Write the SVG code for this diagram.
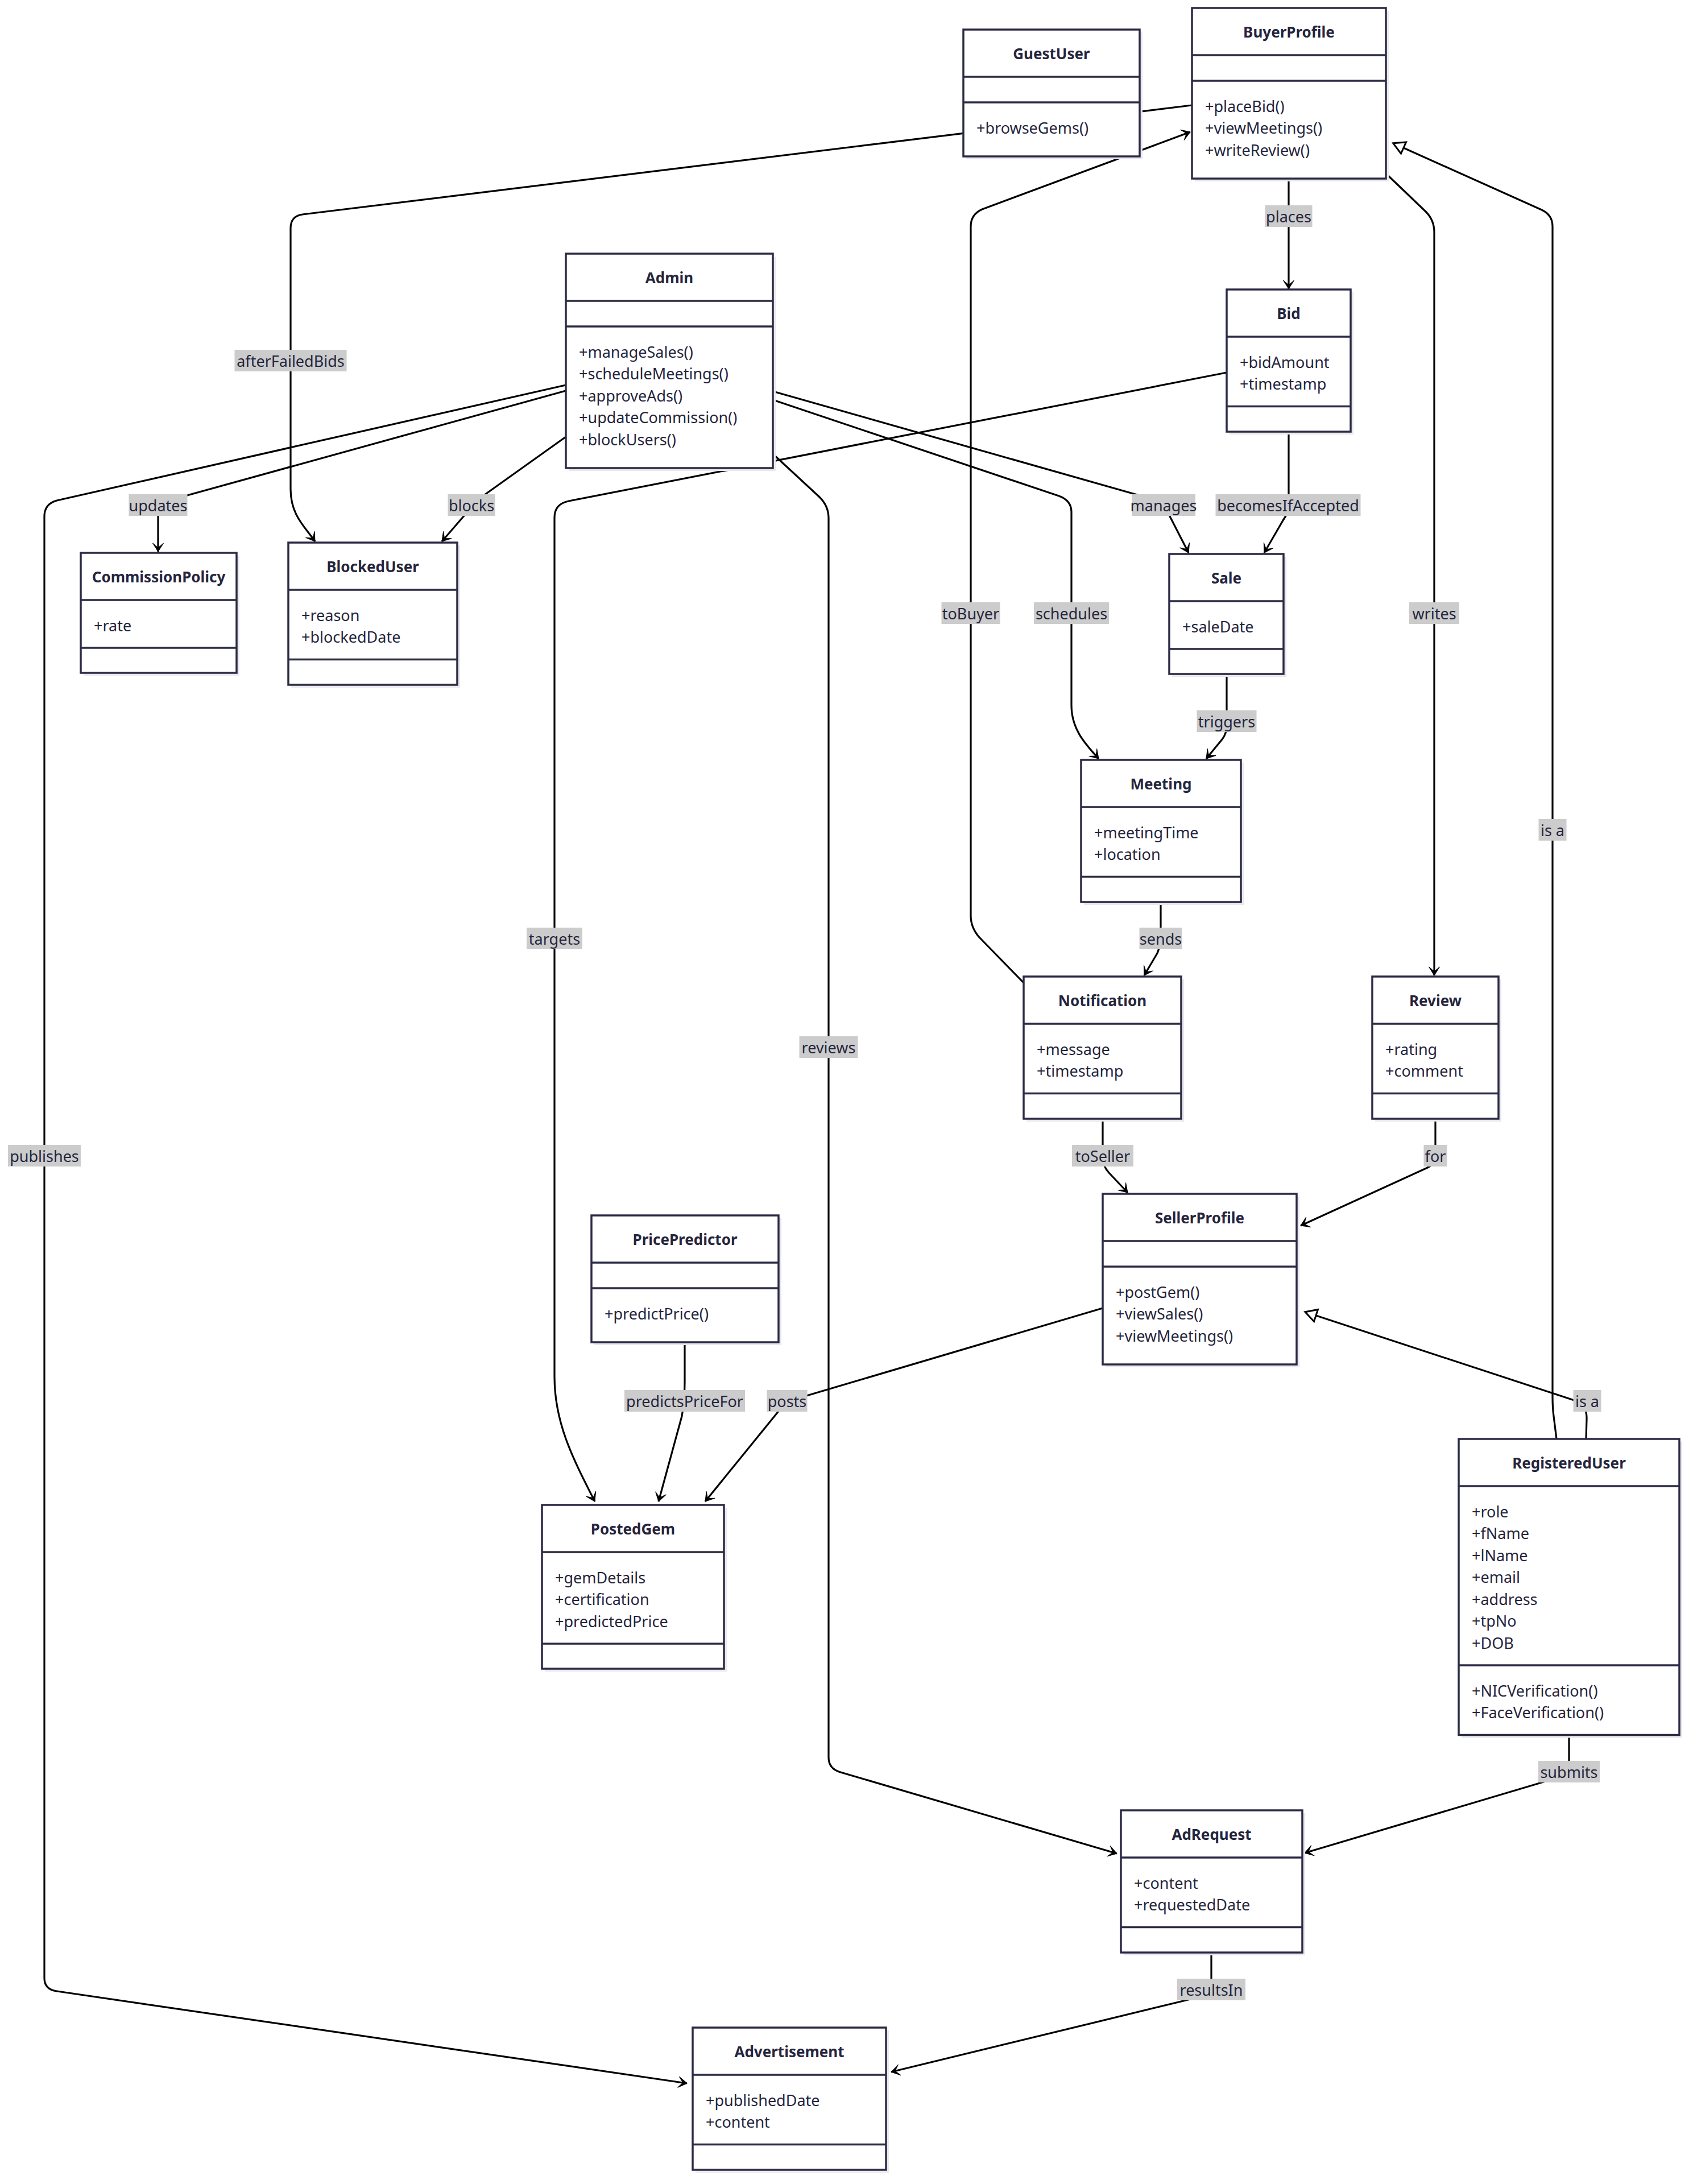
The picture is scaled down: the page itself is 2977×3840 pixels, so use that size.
<svg xmlns="http://www.w3.org/2000/svg" width="2977" height="3840" viewBox="0 0 2977 3840">
  <defs>
    <style>
      .sh { fill: #e8e8ed; }
      .box { fill: #ffffff; stroke: #2b2b45; stroke-width: 3.5; }
      .div { stroke: #2b2b45; stroke-width: 3.5; }
      .title { font-family: "Noto Sans", "Liberation Sans", sans-serif; font-size: 26px; font-weight: bold; fill: #25253d; text-anchor: middle; dominant-baseline: central; }
      .mem { font-family: "Noto Sans", "Liberation Sans", sans-serif; font-size: 27px; fill: #25253d; dominant-baseline: central; }
      .edge { fill: none; stroke: #000000; stroke-width: 3.2; stroke-linejoin: round; }
      .assoc { marker-end: url(#arr); }
      .ext { marker-end: url(#inh); }
      .lbl rect { fill: #cccccc; }
      .lbl text { font-family: "Noto Sans", "Liberation Sans", sans-serif; font-size: 27px; fill: #25253d; text-anchor: middle; dominant-baseline: central; }
    </style>
    <marker id="arr" markerUnits="userSpaceOnUse" viewBox="-20 -12 24 24" refX="0" refY="0" markerWidth="24" markerHeight="24" orient="auto">
      <path d="M0,0 L-15,-9.5 L-7,0 L-15,9.5 Z" fill="#000" stroke="#000" stroke-width="1" stroke-linejoin="round"/>
    </marker>
    <marker id="inh" markerUnits="userSpaceOnUse" viewBox="-4 -15 30 30" refX="0" refY="0" markerWidth="30" markerHeight="30" orient="auto">
      <path d="M0,-11 L20,0 L0,11 Z" fill="#fff" stroke="#000" stroke-width="3"/>
    </marker>
  </defs>

  <rect x="0" y="0" width="2977" height="3840" fill="#ffffff"/>

  <!-- relationships -->
  <g id="connectors">
    <path id="e-afterFailedBids" class="edge assoc" d="M2096,185 L532,377 Q511,380 511,401 L511,860 C511,905 535,925 554,952"/>
    <path id="e-places" class="edge assoc" d="M2266,314 L2266,508"/>
    <path id="e-becomesIfAccepted" class="edge assoc" d="M2266,759 L2266,885 Q2266,902 2256,915 L2223,972"/>
    <path id="e-manages" class="edge assoc" d="M1359,688 L2028,878 Q2044,884 2052,898 L2090,972"/>
    <path id="e-schedules" class="edge assoc" d="M1359,703 L1862,872 Q1884,880 1884,900 L1884,1240 C1884,1280 1905,1305 1932,1334"/>
    <path id="e-triggers" class="edge assoc" d="M2157,1185 L2157,1275 Q2157,1290 2149,1300 L2121,1334"/>
    <path id="e-sends" class="edge assoc" d="M2041,1586 L2041,1645 Q2041,1662 2035,1676 L2012,1715"/>
    <path id="e-toBuyer" class="edge assoc" d="M1801,1729 L1722,1648 Q1707,1631 1707,1610 L1707,398 Q1707,377 1727,368 L2093,232"/>
    <path id="e-toSeller" class="edge assoc" d="M1939,1967 L1939,2035 Q1939,2050 1950,2062 L1983,2097"/>
    <path id="e-writes" class="edge assoc" d="M2437,305 L2507,372 Q2522,387 2522,408 L2522,1715"/>
    <path id="e-for" class="edge assoc" d="M2524,1967 L2524,2035 Q2524,2047 2508,2054 L2287,2155"/>
    <path id="e-isa-buyer" class="edge ext" d="M2737,2530 L2732,2490 Q2730,2475 2730,2455 L2730,398 Q2730,378 2711,369 L2468,260"/>
    <path id="e-isa-seller" class="edge ext" d="M2789,2530 L2790,2495 Q2791,2470 2768,2462 L2314,2313"/>
    <path id="e-submits" class="edge assoc" d="M2759,3051 L2759,3105 Q2759,3120 2738,3126 L2294,3258"/>
    <path id="e-resultsIn" class="edge assoc" d="M2130,3433 L2130,3495 Q2130,3506 2110,3511 L1567,3643"/>
    <path id="e-publishes" class="edge assoc" d="M995,677 L100,880 Q78,886 78,908 L78,3478 Q78,3498 100,3501 L1208,3663"/>
    <path id="e-updates" class="edge assoc" d="M995,687 L300,879 Q278,886 278,905 L278,970"/>
    <path id="e-blocks" class="edge assoc" d="M995,768 L852,870 Q838,880 828,893 L777,952"/>
    <path id="e-targets" class="edge assoc" d="M2157,655 L1000,881 Q975,886 975,910 L975,2420 C975,2500 1005,2560 1046,2640"/>
    <path id="e-predictsPriceFor" class="edge assoc" d="M1204,2360 L1204,2430 Q1204,2462 1199,2490 L1158,2640"/>
    <path id="e-posts" class="edge assoc" d="M1939,2300 L1398,2460 Q1380,2467 1370,2480 L1240,2640"/>
    <path id="e-reviews" class="edge assoc" d="M1359,798 L1440,873 Q1457,889 1457,911 L1457,3090 Q1457,3110 1478,3116 L1964,3259"/>
  </g>

  <!-- classes -->
  <g id="GuestUser">
    <rect class="sh" x="1699" y="57" width="310" height="223"/>
    <rect class="box" x="1694" y="52" width="310" height="223"/>
    <line class="div" x1="1694" y1="135" x2="2004" y2="135"/>
    <line class="div" x1="1694" y1="180" x2="2004" y2="180"/>
    <text class="title" x="1849" y="93.5">GuestUser</text>
    <text class="mem" x="1717" y="224">+browseGems()</text>
  </g>

  <g id="BuyerProfile">
    <rect class="sh" x="2101" y="19" width="341" height="300"/>
    <rect class="box" x="2096" y="14" width="341" height="300"/>
    <line class="div" x1="2096" y1="97" x2="2437" y2="97"/>
    <line class="div" x1="2096" y1="142" x2="2437" y2="142"/>
    <text class="title" x="2266.5" y="55.5">BuyerProfile</text>
    <text class="mem" x="2119" y="186">+placeBid()</text>
    <text class="mem" x="2119" y="224.5">+viewMeetings()</text>
    <text class="mem" x="2119" y="263">+writeReview()</text>
  </g>

  <g id="Admin">
    <rect class="sh" x="1000" y="451" width="364" height="377"/>
    <rect class="box" x="995" y="446" width="364" height="377"/>
    <line class="div" x1="995" y1="529" x2="1359" y2="529"/>
    <line class="div" x1="995" y1="574" x2="1359" y2="574"/>
    <text class="title" x="1177" y="487.5">Admin</text>
    <text class="mem" x="1018" y="618">+manageSales()</text>
    <text class="mem" x="1018" y="656.5">+scheduleMeetings()</text>
    <text class="mem" x="1018" y="695">+approveAds()</text>
    <text class="mem" x="1018" y="733.5">+updateCommission()</text>
    <text class="mem" x="1018" y="772">+blockUsers()</text>
  </g>

  <g id="Bid">
    <rect class="sh" x="2162" y="514" width="218" height="250"/>
    <rect class="box" x="2157" y="509" width="218" height="250"/>
    <line class="div" x1="2157" y1="592" x2="2375" y2="592"/>
    <line class="div" x1="2157" y1="714.5" x2="2375" y2="714.5"/>
    <text class="title" x="2266" y="550.5">Bid</text>
    <text class="mem" x="2180" y="636">+bidAmount</text>
    <text class="mem" x="2180" y="674.5">+timestamp</text>
  </g>

  <g id="CommissionPolicy">
    <rect class="sh" x="147" y="977" width="274" height="211"/>
    <rect class="box" x="142" y="972" width="274" height="211"/>
    <line class="div" x1="142" y1="1055" x2="416" y2="1055"/>
    <line class="div" x1="142" y1="1139" x2="416" y2="1139"/>
    <text class="title" x="279" y="1013.5">CommissionPolicy</text>
    <text class="mem" x="165" y="1099">+rate</text>
  </g>

  <g id="BlockedUser">
    <rect class="sh" x="512" y="959" width="297" height="250"/>
    <rect class="box" x="507" y="954" width="297" height="250"/>
    <line class="div" x1="507" y1="1037" x2="804" y2="1037"/>
    <line class="div" x1="507" y1="1159.5" x2="804" y2="1159.5"/>
    <text class="title" x="655.5" y="995.5">BlockedUser</text>
    <text class="mem" x="530" y="1081">+reason</text>
    <text class="mem" x="530" y="1119.5">+blockedDate</text>
  </g>

  <g id="Sale">
    <rect class="sh" x="2061" y="979" width="201" height="211"/>
    <rect class="box" x="2056" y="974" width="201" height="211"/>
    <line class="div" x1="2056" y1="1057" x2="2257" y2="1057"/>
    <line class="div" x1="2056" y1="1141" x2="2257" y2="1141"/>
    <text class="title" x="2156.5" y="1015.5">Sale</text>
    <text class="mem" x="2079" y="1101">+saleDate</text>
  </g>

  <g id="Meeting">
    <rect class="sh" x="1906" y="1341" width="281" height="250"/>
    <rect class="box" x="1901" y="1336" width="281" height="250"/>
    <line class="div" x1="1901" y1="1419" x2="2182" y2="1419"/>
    <line class="div" x1="1901" y1="1541.5" x2="2182" y2="1541.5"/>
    <text class="title" x="2041.5" y="1377.5">Meeting</text>
    <text class="mem" x="1924" y="1463">+meetingTime</text>
    <text class="mem" x="1924" y="1501.5">+location</text>
  </g>

  <g id="Notification">
    <rect class="sh" x="1805" y="1722" width="277" height="250"/>
    <rect class="box" x="1800" y="1717" width="277" height="250"/>
    <line class="div" x1="1800" y1="1800" x2="2077" y2="1800"/>
    <line class="div" x1="1800" y1="1922.5" x2="2077" y2="1922.5"/>
    <text class="title" x="1938.5" y="1758.5">Notification</text>
    <text class="mem" x="1823" y="1844">+message</text>
    <text class="mem" x="1823" y="1882.5">+timestamp</text>
  </g>

  <g id="Review">
    <rect class="sh" x="2418" y="1722" width="222" height="250"/>
    <rect class="box" x="2413" y="1717" width="222" height="250"/>
    <line class="div" x1="2413" y1="1800" x2="2635" y2="1800"/>
    <line class="div" x1="2413" y1="1922.5" x2="2635" y2="1922.5"/>
    <text class="title" x="2524" y="1758.5">Review</text>
    <text class="mem" x="2436" y="1844">+rating</text>
    <text class="mem" x="2436" y="1882.5">+comment</text>
  </g>

  <g id="SellerProfile">
    <rect class="sh" x="1944" y="2104" width="341" height="300"/>
    <rect class="box" x="1939" y="2099" width="341" height="300"/>
    <line class="div" x1="1939" y1="2182" x2="2280" y2="2182"/>
    <line class="div" x1="1939" y1="2227" x2="2280" y2="2227"/>
    <text class="title" x="2109.5" y="2140.5">SellerProfile</text>
    <text class="mem" x="1962" y="2271">+postGem()</text>
    <text class="mem" x="1962" y="2309.5">+viewSales()</text>
    <text class="mem" x="1962" y="2348">+viewMeetings()</text>
  </g>

  <g id="PricePredictor">
    <rect class="sh" x="1045" y="2142" width="329" height="223"/>
    <rect class="box" x="1040" y="2137" width="329" height="223"/>
    <line class="div" x1="1040" y1="2220" x2="1369" y2="2220"/>
    <line class="div" x1="1040" y1="2265" x2="1369" y2="2265"/>
    <text class="title" x="1204.5" y="2178.5">PricePredictor</text>
    <text class="mem" x="1063" y="2309">+predictPrice()</text>
  </g>

  <g id="PostedGem">
    <rect class="sh" x="958" y="2651" width="320" height="288"/>
    <rect class="box" x="953" y="2646" width="320" height="288"/>
    <line class="div" x1="953" y1="2729" x2="1273" y2="2729"/>
    <line class="div" x1="953" y1="2890" x2="1273" y2="2890"/>
    <text class="title" x="1113" y="2687.5">PostedGem</text>
    <text class="mem" x="976" y="2773">+gemDetails</text>
    <text class="mem" x="976" y="2811.5">+certification</text>
    <text class="mem" x="976" y="2850">+predictedPrice</text>
  </g>

  <g id="RegisteredUser">
    <rect class="sh" x="2570" y="2535" width="388" height="520.5"/>
    <rect class="box" x="2565" y="2530" width="388" height="520.5"/>
    <line class="div" x1="2565" y1="2613" x2="2953" y2="2613"/>
    <line class="div" x1="2565" y1="2928" x2="2953" y2="2928"/>
    <text class="title" x="2759" y="2571.5">RegisteredUser</text>
    <text class="mem" x="2588" y="2657">+role</text>
    <text class="mem" x="2588" y="2695.5">+fName</text>
    <text class="mem" x="2588" y="2734">+lName</text>
    <text class="mem" x="2588" y="2772.5">+email</text>
    <text class="mem" x="2588" y="2811">+address</text>
    <text class="mem" x="2588" y="2849.5">+tpNo</text>
    <text class="mem" x="2588" y="2888">+DOB</text>
    <text class="mem" x="2588" y="2972">+NICVerification()</text>
    <text class="mem" x="2588" y="3010.5">+FaceVerification()</text>
  </g>

  <g id="AdRequest">
    <rect class="sh" x="1976" y="3188" width="319" height="250"/>
    <rect class="box" x="1971" y="3183" width="319" height="250"/>
    <line class="div" x1="1971" y1="3266" x2="2290" y2="3266"/>
    <line class="div" x1="1971" y1="3388.5" x2="2290" y2="3388.5"/>
    <text class="title" x="2130.5" y="3224.5">AdRequest</text>
    <text class="mem" x="1994" y="3310">+content</text>
    <text class="mem" x="1994" y="3348.5">+requestedDate</text>
  </g>

  <g id="Advertisement">
    <rect class="sh" x="1223" y="3570" width="340" height="250"/>
    <rect class="box" x="1218" y="3565" width="340" height="250"/>
    <line class="div" x1="1218" y1="3648" x2="1558" y2="3648"/>
    <line class="div" x1="1218" y1="3770.5" x2="1558" y2="3770.5"/>
    <text class="title" x="1388" y="3606.5">Advertisement</text>
    <text class="mem" x="1241" y="3692">+publishedDate</text>
    <text class="mem" x="1241" y="3730.5">+content</text>
  </g>

  <!-- relationship labels -->
  <g id="edge-labels">
    <g class="lbl"><rect x="412.5" y="615" width="197" height="38"/><text x="511" y="634">afterFailedBids</text></g>
    <g class="lbl"><rect x="2224.5" y="361" width="83" height="38"/><text x="2266" y="380">places</text></g>
    <g class="lbl"><rect x="226.5" y="869" width="103" height="38"/><text x="278" y="888">updates</text></g>
    <g class="lbl"><rect x="787.5" y="869" width="83" height="38"/><text x="829" y="888">blocks</text></g>
    <g class="lbl"><rect x="1990" y="869" width="112" height="38"/><text x="2046" y="888">manages</text></g>
    <g class="lbl"><rect x="2137.5" y="869" width="255" height="38"/><text x="2265" y="888">becomesIfAccepted</text></g>
    <g class="lbl"><rect x="1655.5" y="1059" width="103" height="38"/><text x="1707" y="1078">toBuyer</text></g>
    <g class="lbl"><rect x="1818" y="1059" width="132" height="38"/><text x="1884" y="1078">schedules</text></g>
    <g class="lbl"><rect x="2478" y="1059" width="88" height="38"/><text x="2522" y="1078">writes</text></g>
    <g class="lbl"><rect x="2104.5" y="1249" width="105" height="38"/><text x="2157" y="1268">triggers</text></g>
    <g class="lbl"><rect x="2705.5" y="1440" width="49" height="38"/><text x="2730" y="1459">is a</text></g>
    <g class="lbl"><rect x="2003.5" y="1631" width="75" height="38"/><text x="2041" y="1650">sends</text></g>
    <g class="lbl"><rect x="926" y="1631" width="98" height="38"/><text x="975" y="1650">targets</text></g>
    <g class="lbl"><rect x="1405.5" y="1822" width="103" height="38"/><text x="1457" y="1841">reviews</text></g>
    <g class="lbl"><rect x="1885" y="2013" width="108" height="38"/><text x="1939" y="2032">toSeller</text></g>
    <g class="lbl"><rect x="2503.5" y="2013" width="41" height="38"/><text x="2524" y="2032">for</text></g>
    <g class="lbl"><rect x="14" y="2013" width="128" height="38"/><text x="78" y="2032">publishes</text></g>
    <g class="lbl"><rect x="1098" y="2444" width="212" height="38"/><text x="1204" y="2463">predictsPriceFor</text></g>
    <g class="lbl"><rect x="1348.5" y="2444" width="71" height="38"/><text x="1384" y="2463">posts</text></g>
    <g class="lbl"><rect x="2766.5" y="2444" width="49" height="38"/><text x="2791" y="2463">is a</text></g>
    <g class="lbl"><rect x="2705" y="3096" width="108" height="38"/><text x="2759" y="3115">submits</text></g>
    <g class="lbl"><rect x="2070" y="3479" width="120" height="38"/><text x="2130" y="3498">resultsIn</text></g>
  </g>
</svg>
